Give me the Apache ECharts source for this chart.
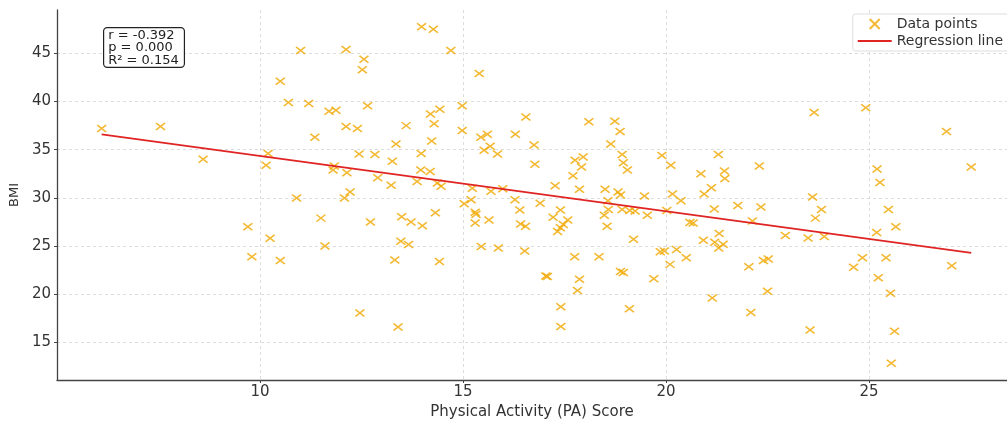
<!DOCTYPE html>
<html>
<head>
<meta charset="utf-8">
<script src="https://cdn.jsdelivr.net/npm/echarts@6/dist/echarts.min.js"></script>
<style>
  html, body { margin: 0; padding: 0; background: #fff; }
  #chart { width: 1007px; height: 425px; }
</style>
</head>
<body>
<div id="chart"></div>
<script>
// PA score vs BMI
const paScore = [
  6.1, 7.55, 8.6, 9.7, 9.8, 10.2, 10.15, 10.25, 10.5, 10.5,
  10.7, 10.9, 11.0, 11.2, 11.35, 11.5, 11.6, 11.7, 11.87, 11.8,
  12.12, 12.56, 12.52, 12.65, 12.12, 12.4, 12.44, 12.83, 11.83, 12.14,
  12.9, 12.22, 12.08, 12.72, 12.46, 13.98, 14.27, 14.7, 15.4, 14.98,
  14.43, 14.2, 14.29, 13.6, 14.98, 15.6, 15.44, 14.23, 13.35, 15.67,
  15.52, 15.85, 13.97, 13.26, 13.96, 14.19, 13.23, 13.87, 14.37, 14.46,
  15.23, 15.69, 15.98, 15.2, 15.03, 14.32, 15.3, 15.32, 15.3, 15.64,
  13.49, 13.72, 14.0, 13.47, 13.66, 15.45, 15.87, 13.32, 14.42, 13.4,
  16.55, 18.1, 18.74, 18.87, 16.29, 16.75, 18.64, 17.96, 17.76, 17.92,
  18.92, 18.95, 16.77, 17.71, 17.27, 17.87, 18.5, 18.82, 18.88, 16.28,
  16.9, 18.57, 17.4, 16.4, 17.22, 18.58, 18.48, 18.92, 17.58, 17.47,
  17.4, 17.33, 16.42, 16.54, 18.55, 16.52, 17.75, 18.35, 17.04, 17.08,
  18.88, 18.95, 17.87, 17.82, 17.41, 17.41, 19.1, 19.9, 19.05, 21.29,
  20.12, 20.86, 21.44, 21.45, 21.12, 20.94, 20.16, 20.37, 19.47, 21.77,
  21.19, 20.02, 19.11, 19.24, 19.54, 20.59, 20.67, 19.2, 20.92, 21.31,
  21.2, 21.41, 21.3, 19.86, 19.96, 20.26, 20.5, 20.1, 19.7, 21.14,
  23.65, 24.92, 22.3, 25.2, 25.27, 23.61, 23.83, 23.68, 22.34, 22.13,
  22.94, 23.5, 23.9, 25.19, 22.04, 22.4, 22.52, 24.62, 24.84, 25.23,
  22.5, 22.09, 23.55, 26.91, 27.52, 25.48, 25.66, 25.42, 27.04, 25.53,
  25.63, 25.55
];
const bmi = [
  37.2, 37.4, 34.0, 27.0, 23.9, 34.6, 33.4, 25.8, 23.5, 42.1,
  39.9, 30.0, 45.3, 39.8, 36.3, 27.9, 25.0, 39.0, 39.1, 32.9,
  45.4, 44.4, 43.3, 39.55, 37.4, 37.2, 34.55, 34.5, 33.3, 32.6,
  32.1, 30.6, 30.0, 27.5, 18.05, 47.75, 47.5, 45.3, 42.9, 39.55,
  39.2, 38.7, 37.7, 37.5, 37.0, 36.6, 36.3, 35.9, 35.6, 35.35,
  34.95, 34.55, 34.6, 33.8, 32.9, 32.75, 31.3, 31.7, 31.55, 31.2,
  31.0, 30.7, 30.95, 29.8, 29.4, 28.45, 28.5, 28.3, 27.4, 27.7,
  28.05, 27.5, 27.1, 25.5, 25.15, 24.95, 24.8, 23.55, 23.4, 16.6,
  38.4, 37.9, 37.95, 36.9, 36.6, 35.5, 35.6, 34.25, 33.9, 33.2,
  34.5, 33.65, 33.5, 32.3, 31.25, 30.9, 30.9, 30.6, 30.3, 29.8,
  29.45, 29.7, 28.75, 28.75, 28.0, 28.8, 28.2, 28.8, 27.7, 27.25,
  26.9, 26.5, 27.3, 27.05, 27.05, 24.5, 23.9, 23.9, 21.9, 21.85,
  22.35, 22.25, 21.55, 20.4, 18.7, 16.65, 18.5, 34.4, 32.9, 34.5,
  33.4, 32.5, 32.8, 32.0, 31.05, 30.4, 30.4, 29.7, 30.2, 29.2,
  28.85, 28.7, 28.7, 28.65, 28.2, 27.45, 27.4, 25.7, 25.6, 26.3,
  25.4, 25.2, 24.8, 24.4, 24.5, 24.65, 23.8, 23.1, 21.6, 19.6,
  38.85, 39.35, 33.3, 33.0, 31.6, 30.1, 28.8, 27.9, 29.05, 27.6,
  26.1, 25.85, 26.0, 26.4, 22.85, 23.5, 23.65, 22.8, 23.8, 21.7,
  20.3, 18.1, 16.3, 36.9, 33.2, 28.8, 27.0, 23.8, 22.95, 20.1,
  16.15, 12.85
];
// fitted line end points
const lineX = [6.1, 27.52];
const lineY = [36.6, 24.3];

const xTicks = [10, 15, 20, 25];
const yTicks = [15, 20, 25, 30, 35, 40, 45];
const statsText = ['r = -0.392', 'p = 0.000', 'R\u00b2 = 0.154'];

const points = paScore.map((x, i) => [x, bmi[i]]);
const fitLine = lineX.map((x, i) => [x, lineY[i]]);

const chart = echarts.init(document.getElementById('chart'), null, { renderer: 'canvas' });

const axisFont = 'DejaVu Sans';
const gridLine = { show: true, lineStyle: { color: '#d4d4d4', type: [3, 3], width: 0.8 } };

chart.setOption({
  animation: false,
  grid: { left: 57, right: 0, top: 10, bottom: 35 },
  xAxis: {
    type: 'value',
    min: 5,
    max: 28.4,
    name: 'Physical Activity (PA) Score',
    nameLocation: 'middle',
    nameGap: 25,
    nameTextStyle: { fontFamily: axisFont, fontSize: 15, color: '#333' },
    axisLine: { lineStyle: { color: '#444', width: 1.3 } },
    axisTick: { show: true, length: 3, customValues: xTicks, lineStyle: { color: '#444' } },
    axisLabel: { customValues: xTicks, fontFamily: axisFont, fontSize: 15, color: '#333', margin: 5 },
    splitLine: gridLine
  },
  yAxis: {
    type: 'value',
    min: 11.1,
    max: 49.5,
    name: 'BMI',
    nameLocation: 'middle',
    nameRotate: 90,
    nameGap: 32,
    nameTextStyle: { fontFamily: axisFont, fontSize: 13, color: '#333' },
    axisLine: { show: true, lineStyle: { color: '#444', width: 1.3 } },
    axisTick: { show: true, length: 3, customValues: yTicks, lineStyle: { color: '#444' } },
    axisLabel: { customValues: yTicks, fontFamily: axisFont, fontSize: 15, color: '#333', margin: 6 },
    splitLine: gridLine
  },
  legend: {
    orient: 'vertical',
    right: -4,
    top: 14,
    itemGap: 3,
    itemWidth: 34,
    itemHeight: 10,
    padding: [3, 8, 3, 4],
    borderColor: '#ddd',
    borderWidth: 1,
    borderRadius: 3,
    backgroundColor: '#fff',
    textStyle: { fontFamily: axisFont, fontSize: 14, color: '#333' },
    data: [
      { name: 'Data points' },
      { name: 'Regression line', itemStyle: { opacity: 0 } }
    ]
  },
  graphic: [{
    type: 'text',
    left: 103,
    top: 27,
    z: 100,
    style: {
      text: statsText.join('\n'),
      font: '13px "DejaVu Sans"',
      lineHeight: 12.5,
      fill: '#222',
      backgroundColor: '#fff',
      borderColor: '#222',
      borderWidth: 1.2,
      borderRadius: 3,
      padding: [1, 5, 0, 4]
    }
  }],
  series: [
    {
      name: 'Data points',
      type: 'scatter',
      data: points,
      symbol: 'path://M0,0L10,10M10,0L0,10',
      symbolSize: [9, 7],
      itemStyle: { color: 'rgba(0,0,0,0)', borderColor: '#f0a800', borderWidth: 1.6 }
    },
    {
      name: 'Regression line',
      type: 'line',
      data: fitLine,
      symbol: 'none',
      itemStyle: { color: '#e02424' },
      lineStyle: { color: '#e02424', width: 1.8 },
      z: 3
    }
  ]
});
</script>
</body>
</html>
